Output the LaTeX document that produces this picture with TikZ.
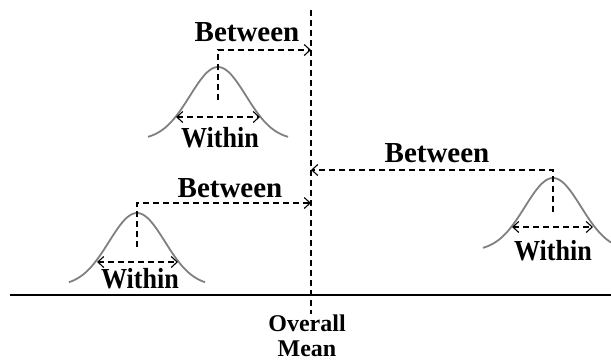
\documentclass[tikz,border=0pt]{standalone}
\usepackage{fontspec}
\setmainfont{Liberation Serif}
\usetikzlibrary{arrows.meta}

\begin{document}
\begin{tikzpicture}[x=1pt,y=-1pt,>={Straight Barb[length=6pt,width=11pt]},
bellcurve/.style={draw=black!50,line width=1.8pt},
guideline/.style={dashed,dash pattern=on 6pt off 4pt,line width=1.1pt},
textlabel/.style={font=\fontsize{29}{31}\selectfont\bfseries,inner sep=0pt,anchor=base}]
\useasboundingbox (0,0) rectangle (611,362);
% axis and overall mean
\coordinate (axisL) at (10,295);
\coordinate (axisR) at (611,295);
\coordinate (meanT) at (311,10);
\coordinate (meanB) at (311,314);
\draw[line width=1.2pt] (axisL)--(axisR);
\draw[guideline] (meanT)--(meanB);
\node[textlabel,font=\fontsize{24}{25}\selectfont\bfseries,align=center] (mean) at (307,356) {Overall\\Mean};
% group 1
\draw[bellcurve] plot[domain=-70:70,samples=60] ({218+\x},{140-73*exp(-(\x*\x)/1568)});
\coordinate (top1) at (218,50);
\coordinate (low1) at (218,100);
\coordinate (hit1) at (311,50);
\coordinate (w1a) at (176,117);
\coordinate (w1b) at (260,117);
\draw[guideline,->] (low1)--(top1)--(hit1);
\draw[guideline,<->] (w1a)--(w1b);
\node[textlabel] (between1) at (247,41) {Between};
\node[textlabel] (within1) at (220,147) {\scalebox{0.9}[1]{Within}};
% group 2
\draw[bellcurve] plot[domain=-68:68,samples=60] ({137+\x},{286-73*exp(-(\x*\x)/1568)});
\coordinate (top2) at (137,203);
\coordinate (low2) at (137,247);
\coordinate (hit2) at (311,203);
\coordinate (w2a) at (97,262);
\coordinate (w2b) at (178,262);
\draw[guideline,->] (low2)--(top2)--(hit2);
\draw[guideline,<->] (w2a)--(w2b);
\node[textlabel] (between2) at (230,197) {Between};
\node[textlabel] (within2) at (140,288) {\scalebox{0.9}[1]{Within}};
% group 3
\draw[bellcurve] plot[domain=-70:58,samples=60] ({553+\x},{251-73*exp(-(\x*\x)/1568)});
\coordinate (top3) at (553,170);
\coordinate (low3) at (553,212);
\coordinate (hit3) at (311,170);
\coordinate (w3a) at (512,227);
\coordinate (w3b) at (593,227);
\draw[guideline,->] (low3)--(top3)--(hit3);
\draw[guideline,<->] (w3a)--(w3b);
\node[textlabel] (between3) at (437,162) {Between};
\node[textlabel] (within3) at (553,260) {\scalebox{0.9}[1]{Within}};
\end{tikzpicture}
\end{document}
